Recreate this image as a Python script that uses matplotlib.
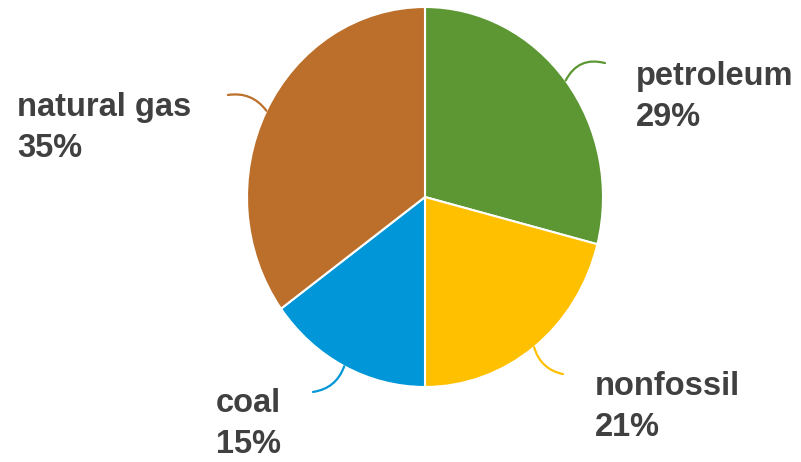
import numpy as np
import matplotlib
matplotlib.use("Agg")
import matplotlib.pyplot as plt

# Energy source shares (%)
labels = ["petroleum", "nonfossil", "coal", "natural gas"]
shares = [29, 21, 15, 35]
colors = ["#5C9733", "#FFC000", "#0096D7", "#BC6F2A"]

# Label layout: leader end point and text anchor (data units, pie radius = 1)
leader_ends = [(1.011, 0.705), (0.775, -0.932), (-0.629, -1.026), (-1.107, 0.537)]
text_pos = [(1.185, 0.589), (0.955, -1.042), (-1.174, -1.132), (-2.292, 0.426)]
leader_rad = [0.4, -0.3, 0.3, -0.3]
line_gap = 0.215

fig = plt.figure(figsize=(8.01, 4.62), dpi=100)
ax = fig.add_axes([247 / 801, 75 / 462, 356 / 801, 380 / 462])

wedges, _ = ax.pie(shares, colors=colors, startangle=90, counterclock=False,
                   radius=1, wedgeprops=dict(edgecolor="white", linewidth=1.5))
ax.set_aspect("auto")
ax.set_xlim(-1, 1)
ax.set_ylim(-1, 1)
ax.axis("off")

for w, lab, val, col, end, tp, rad in zip(wedges, labels, shares, colors,
                                          leader_ends, text_pos, leader_rad):
    mid = np.deg2rad((w.theta1 + w.theta2) / 2)
    start = (np.cos(mid), np.sin(mid))
    ax.annotate("", xy=start, xytext=end, annotation_clip=False,
                arrowprops=dict(arrowstyle="-", color=col, lw=1.6,
                                shrinkA=0, shrinkB=0,
                                connectionstyle=f"arc3,rad={rad}"))
    txt = dict(fontsize=23.5, fontweight="bold", color="#404040",
               family="Liberation Sans", ha="left", va="baseline")
    ax.text(tp[0], tp[1], lab, **txt)
    ax.text(tp[0], tp[1] - line_gap, f"{val}%", **txt)

fig.savefig("out.png", dpi=100)
